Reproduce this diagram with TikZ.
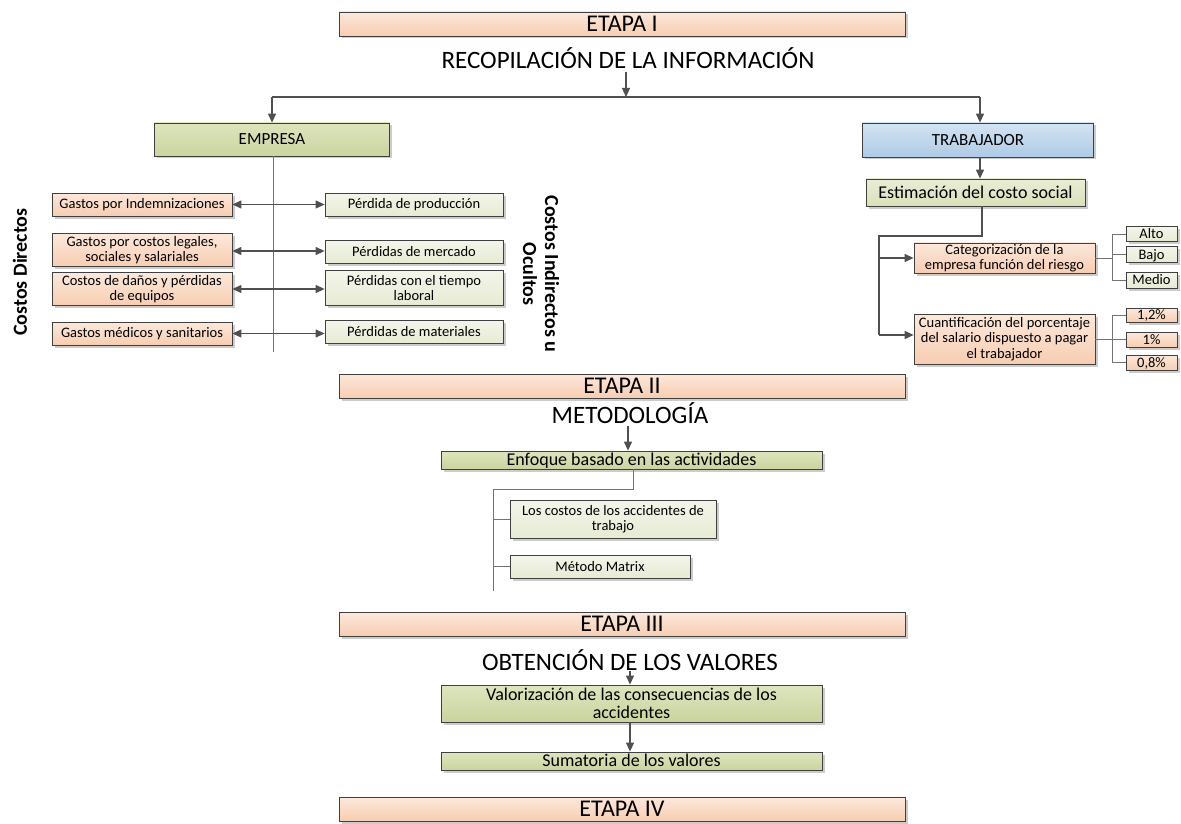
\documentclass[tikz,border=0pt]{standalone}
\usepackage{fontspec}
\setmainfont{Carlito}
\usetikzlibrary{arrows.meta,shadows}

\definecolor{edge}{HTML}{404040}
\definecolor{linec}{HTML}{505050}
\definecolor{salmonT}{HTML}{FCE8DB}
\definecolor{salmonB}{HTML}{F7CDB1}
\definecolor{oliveT}{HTML}{DEE5BE}
\definecolor{oliveB}{HTML}{C9D49E}
\definecolor{paleT}{HTML}{F3F5EA}
\definecolor{paleB}{HTML}{E6EBD4}
\definecolor{midT}{HTML}{E9EED6}
\definecolor{midB}{HTML}{D8E0B8}
\definecolor{blueT}{HTML}{D3E3F3}
\definecolor{blueB}{HTML}{AFCAE6}

\tikzset{
  box/.style={draw=edge, line width=0.8pt, inner sep=1pt, align=center,
    font=\fontsize{14.5}{15.5}\selectfont,
    drop shadow={shadow xshift=2.5pt, shadow yshift=-2.5pt, fill=black!20, opacity=1}},
  salmon/.style={box, top color=salmonT, bottom color=salmonB},
  olive/.style={box, top color=oliveT, bottom color=oliveB},
  pale/.style={box, top color=paleT, bottom color=paleB},
  mid/.style={box, top color=midT, bottom color=midB},
  bluebox/.style={box, top color=blueT, bottom color=blueB},
  tight/.style={text height=11pt, text depth=2pt, inner ysep=0.5pt},
  bigtxt/.style={font=\fontsize{18}{18.5}\selectfont},
  oneline/.style={bigtxt, text height=13.5pt, text depth=2.5pt, inner ysep=0.5pt},
  stage/.style={salmon, minimum width=566pt, minimum height=24pt,
    text height=18.5pt, text depth=3.5pt, inner ysep=1pt, font=\fontsize{24}{26}\selectfont},
  title/.style={inner sep=0pt, font=\fontsize{25}{27}\selectfont},
  side/.style={inner sep=0pt, align=center, font=\bfseries\fontsize{20}{22}\selectfont},
  conn/.style={draw=linec, line width=1.2pt},
  thin/.style={draw=linec!80, line width=0.9pt},
  arr/.style={conn, -{Triangle[length=9pt,width=8pt]}},
  darr/.style={conn, {Triangle[length=9pt,width=8pt]}-{Triangle[length=9pt,width=8pt]}},
}

\begin{document}
\begin{tikzpicture}[x=1pt, y=-1pt]
\useasboundingbox[fill=white] (0,0) rectangle (1181,824);

% ---- Stage I ----
\node[stage] (et1) at (622,24) {ETAPA I};
\node[title] (reco) at (628,58) {RECOPILACIÓN DE LA INFORMACIÓN};
\coordinate (j0) at (626,97);
\coordinate (jl) at (272,97);
\coordinate (jr) at (980,97);

\node[olive, minimum width=235pt, minimum height=33pt, font=\fontsize{17}{18}\selectfont] (emp) at (272,139.5) {EMPRESA};
\node[bluebox, minimum width=231pt, minimum height=34pt, font=\fontsize{17}{18}\selectfont] (trab) at (978,140) {TRABAJADOR};

\draw[conn] (jl) -- (jr);
\draw[arr] (j0 |- reco.south) ++(0,3) -- (j0);
\draw[arr] (jl) -- (emp.north);
\draw[arr] (jr) -- (jr |- trab.north);

% company side: direct and hidden costs
\coordinate (es) at (273,352);
\draw[thin] (emp.south -| es) -- (es);

\node[salmon, minimum width=180pt, minimum height=23pt] (g1) at (142,204.5) {Gastos por Indemnizaciones};
\node[salmon, minimum width=180pt, minimum height=33pt] (g2) at (142,250) {Gastos por costos legales,\\sociales y salariales};
\node[salmon, minimum width=180pt, minimum height=33pt] (g3) at (142,289) {Costos de daños y pérdidas\\de equipos};
\node[salmon, minimum width=180pt, minimum height=23pt] (g4) at (142,333.5) {Gastos médicos y sanitarios};

\node[pale, minimum width=178pt, minimum height=23pt] (p1) at (414,204.5) {Pérdida de producción};
\node[pale, minimum width=178pt, minimum height=23pt] (p2) at (414,251.5) {Pérdidas de mercado};
\node[pale, minimum width=178pt, minimum height=35pt] (p3) at (414,288) {Pérdidas con el tiempo\\laboral};
\node[pale, minimum width=178pt, minimum height=23pt] (p4) at (414,332) {Pérdidas de materiales};

\draw[darr] (g1.east) -- (g1.east -| p1.west);
\draw[darr] ([yshift=-1pt]g2.east) -- ([yshift=-1pt]g2.east -| p2.west);
\draw[darr] (g3.east) -- (g3.east -| p3.west);
\draw[darr] (g4.east) -- (g4.east -| p4.west);

\node[side, rotate=90] (cdir) at (20,272) {Costos Directos};
\node[side, rotate=-90] (cind) at (541,274) {Costos Indirectos u\\Ocultos};

% worker side: social cost
\node[mid, bigtxt, minimum width=219pt, minimum height=27pt] (est) at (975.5,192.5) {Estimación del costo social};
\draw[arr] (jr |- trab.south) -- (jr |- est.north);

\node[salmon, minimum width=181pt, minimum height=30pt] (cat) at (1004.5,258) {Categorización de la\\empresa función del riesgo};
\node[salmon, minimum width=181pt, minimum height=50pt] (cua) at (1004.5,339) {Cuantificación del porcentaje\\del salario dispuesto a pagar\\el trabajador};

\coordinate (e1) at (982,236);
\coordinate (e2) at (879,236);
\coordinate (e3) at (879,335);
\draw[conn] (est.south -| e1) -- (e1) -- (e2) -- (e3);
\draw[arr] (e2 |- cat.west) -- (cat.west);
\draw[arr] (e3) -- (e3 -| cua.west);

\node[pale, tight, minimum width=51pt, minimum height=15pt] (alto) at (1151.5,234) {Alto};
\node[pale, tight, minimum width=51pt, minimum height=16pt] (bajo) at (1151.5,254.5) {Bajo};
\node[pale, tight, minimum width=51pt, minimum height=16pt] (medio) at (1151.5,280) {Medio};
\node[salmon, tight, minimum width=51pt, minimum height=14pt] (q1) at (1151.5,315) {1,2\%};
\node[salmon, tight, minimum width=51pt, minimum height=15pt] (q2) at (1151.5,339.5) {1\%};
\node[salmon, tight, minimum width=51pt, minimum height=15pt] (q3) at (1151.5,362.5) {0,8\%};

\coordinate (bx) at (1112,0);
\draw[thin] (cat.east) -- (cat.east -| bx);
\draw[thin] (alto.west) -- (alto.west -| bx) -- (medio.west -| bx) -- (medio.west);
\draw[thin] (bajo.west) -- (bajo.west -| bx);
\draw[thin] (cua.east) -- (cua.east -| bx);
\draw[thin] (q1.west) -- (q1.west -| bx) -- (q3.west -| bx) -- (q3.west);
\draw[thin] (q2.west) -- (q2.west -| bx);

% ---- Stage II ----
\node[stage] (et2) at (622,386) {ETAPA II};
\node[title] (meto) at (630,413) {METODOLOGÍA};
\node[olive, oneline, minimum width=381pt, minimum height=18pt] (enf) at (631.5,460) {Enfoque basado en las actividades};
\coordinate (mx) at (628,0);
\draw[arr] (mx |- meto.south) ++(0,2) -- (mx |- enf.north);

\node[pale, minimum width=206pt, minimum height=38pt] (acc) at (613,519) {Los costos de los accidentes de\\trabajo};
\node[pale, minimum width=180pt, minimum height=23pt] (mat) at (600,566.5) {Método Matrix};

\coordinate (s1) at (633,489);
\coordinate (s2) at (493,489);
\coordinate (s3) at (493,591);
\draw[thin] (enf.south -| s1) -- (s1) -- (s2) -- (s3);
\draw[thin] (s2 |- acc.west) -- (acc.west);
\draw[thin] (s2 |- mat.west) -- (mat.west);

% ---- Stage III ----
\node[stage] (et3) at (622,624) {ETAPA III};
\node[title] (obt) at (630,660) {OBTENCIÓN DE LOS VALORES};
\node[olive, bigtxt, minimum width=381pt, minimum height=37pt] (val) at (631.5,703.5) {Valorización de las consecuencias de los\\accidentes};
\node[olive, oneline, minimum width=381pt, minimum height=18pt] (sum) at (631.5,761) {Sumatoria de los valores};
\coordinate (vx) at (630,0);
\draw[arr] (obt.south -| vx) -- (vx |- val.north);
\draw[arr] (val.south -| vx) -- (vx |- sum.north);

% ---- Stage IV ----
\node[stage] (et4) at (622,809) {ETAPA IV};
\end{tikzpicture}
\end{document}
